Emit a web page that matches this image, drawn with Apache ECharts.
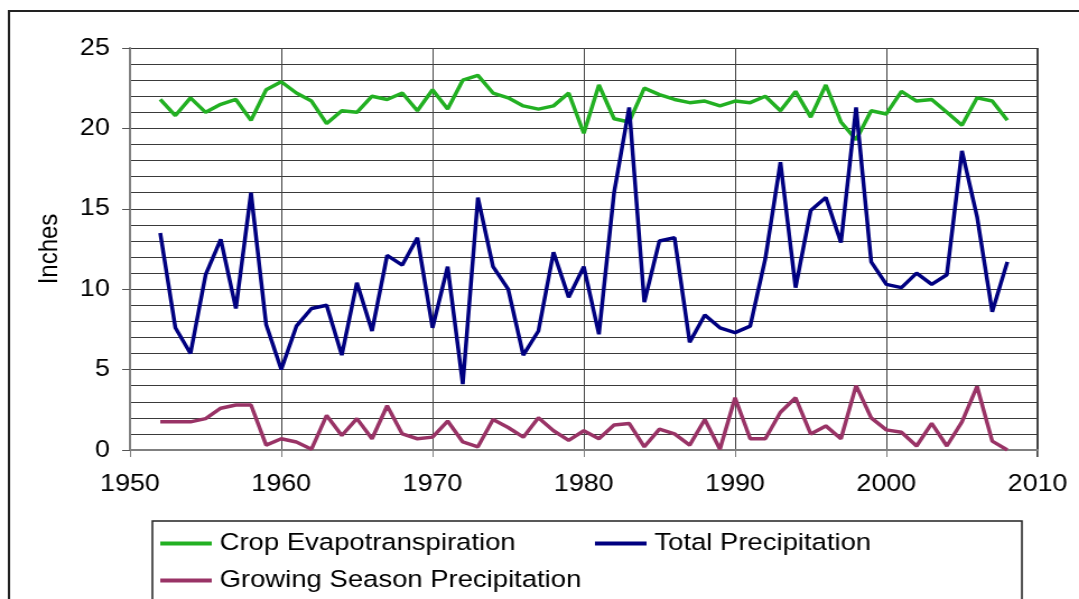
<!DOCTYPE html>
<html>
<head>
<meta charset="utf-8">
<script src="https://cdn.jsdelivr.net/npm/echarts@6/dist/echarts.min.js"></script>
<style>
html,body{margin:0;padding:0;background:#fff;overflow:hidden;width:1079px;height:599px;}
#wrap{width:1079px;height:599px;overflow:hidden;position:relative;}
#chart{width:963px;height:599px;transform:scaleX(1.1205);transform-origin:0 0;}
</style>
</head>
<body>
<div id="wrap"><div id="chart"></div></div>
<script>
const years = [];
for (let y = 1952; y <= 2008; y++) years.push(y);

const seriesNames = ['Crop Evapotranspiration', 'Total Precipitation', 'Growing Season Precipitation'];

const cropET = [
  21.8,20.8,21.9,21.0,21.5,21.8,20.5,22.4,22.9,22.2,
  21.7,20.3,21.1,21.0,22.0,21.8,22.2,21.1,22.4,21.2,
  23.0,23.3,22.2,21.9,21.4,21.2,21.4,22.2,19.7,22.7,
  20.6,20.4,22.5,22.1,21.8,21.6,21.7,21.4,21.7,21.6,
  22.0,21.1,22.3,20.7,22.7,20.4,19.3,21.1,20.9,22.3,
  21.7,21.8,21.0,20.2,21.9,21.7,20.5
];
const totalPrecip = [
  13.5,7.6,6.0,10.9,13.1,8.8,16.0,7.8,5.0,7.7,
  8.8,9.0,5.9,10.4,7.4,12.1,11.5,13.2,7.6,11.4,
  4.1,15.7,11.4,10.0,5.9,7.4,12.3,9.5,11.4,7.2,
  16.0,21.3,9.2,13.0,13.2,6.7,8.4,7.6,7.3,7.7,
  11.9,17.9,10.1,14.9,15.7,12.9,21.3,11.7,10.3,10.1,
  11.0,10.3,10.9,18.6,14.5,8.6,11.7
];
const growingPrecip = [
  1.75,1.75,1.75,1.95,2.6,2.8,2.8,0.3,0.7,0.5,
  0.05,2.15,0.9,1.95,0.7,2.75,1.0,0.7,0.8,1.8,
  0.5,0.2,1.9,1.4,0.8,2.0,1.2,0.6,1.2,0.7,
  1.55,1.65,0.2,1.3,1.0,0.3,1.9,0.05,3.25,0.7,
  0.7,2.35,3.25,1.0,1.5,0.7,4.0,2.0,1.25,1.1,
  0.25,1.65,0.25,1.75,3.95,0.55,0.0
];

const colors = ['#22b022', '#000080', '#993366'];
const FONT = '"Liberation Sans", Arial, sans-serif';

function pairs(vals) { return years.map((y, i) => [y, vals[i]]); }

const chart = echarts.init(document.getElementById('chart'), null, {renderer: 'canvas'});

function legendItem(name, left, top) {
  return {
    data: [name],
    left: left, top: top,
    orient: 'horizontal',
    icon: 'rect',
    itemWidth: 46, itemHeight: 4,
    selectedMode: false,
    padding: 0,
    textStyle: {fontFamily: FONT, fontSize: 24.5, color: '#000', padding: [0,0,0,2]}
  };
}

chart.setOption({
  animation: false,
  backgroundColor: '#fff',
  color: colors,
  grid: {left: 116, right: 37, top: 48, bottom: 149, containLabel: false},
  xAxis: {
    type: 'value', min: 1950, max: 2010, interval: 10,
    axisLine: {show: true, lineStyle: {color: '#808080', width: 2}},
    axisTick: {show: true, length: 7, lineStyle: {color: '#808080', width: 1}},
    axisLabel: {fontFamily: FONT, fontSize: 24, color: '#000', margin: 22, formatter: v => String(v)},
    splitLine: {show: true, lineStyle: {color: '#444', width: 1}}
  },
  yAxis: {
    type: 'value', min: 0, max: 25, interval: 5,
    name: 'Inches', nameLocation: 'middle', nameGap: 60,
    nameTextStyle: {fontFamily: FONT, fontSize: 24, color: '#000'},
    axisLine: {show: true, lineStyle: {color: '#808080', width: 2}},
    axisTick: {show: true, length: 7, lineStyle: {color: '#555', width: 1}},
    axisLabel: {fontFamily: FONT, fontSize: 24, color: '#000', margin: 18},
    splitLine: {show: true, lineStyle: {color: '#3a3a3a', width: 1}},
    minorTick: {show: false, splitNumber: 5},
    minorSplitLine: {show: true, lineStyle: {color: '#3a3a3a', width: 1}}
  },
  legend: [
    legendItem(seriesNames[0], 143, 531),
    legendItem(seriesNames[1], 531, 531),
    legendItem(seriesNames[2], 143, 568)
  ],
  graphic: [
    {type: 'rect', shape: {x: 8, y: 11, width: 1500, height: 1000}, style: {fill: 'none', stroke: '#222', lineWidth: 2}, silent: true},
    {type: 'rect', shape: {x: 136, y: 521, width: 776, height: 300}, style: {fill: 'none', stroke: '#222', lineWidth: 1.5}, silent: true},
    {type: 'line', shape: {x1: 926, y1: 48, x2: 926, y2: 457}, style: {stroke: '#000', lineWidth: 1.5}, silent: true}
  ],
  series: [
    {name: seriesNames[0], type: 'line', data: pairs(cropET), symbol: 'none', lineStyle: {width: 3.5, color: colors[0]}, z: 3},
    {name: seriesNames[1], type: 'line', data: pairs(totalPrecip), symbol: 'none', lineStyle: {width: 3.5, color: colors[1]}, z: 4},
    {name: seriesNames[2], type: 'line', data: pairs(growingPrecip), symbol: 'none', lineStyle: {width: 3.5, color: colors[2]}, z: 5}
  ]
});
</script>
</body>
</html>
